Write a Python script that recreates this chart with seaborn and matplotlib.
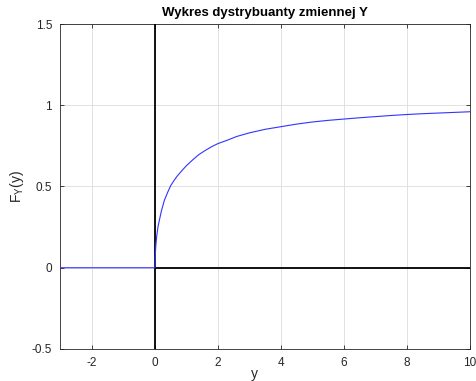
import numpy as np
import pandas as pd
import matplotlib
matplotlib.use("Agg")
import matplotlib.pyplot as plt
import seaborn as sns

# data
y_vals = [-3.0, -2.0, -1.0, 0.0, 0.01, 0.03, 0.06, 0.1, 0.15, 0.2, 0.3, 0.4, 0.5,
          0.6, 0.7, 0.8, 0.9, 1.0, 1.2, 1.4, 1.6, 1.8, 2.0, 2.3, 2.6, 3.0, 3.5,
          4.0, 4.5, 5.0, 5.5, 6.0, 6.5, 7.0, 7.5, 8.0, 8.5, 9.0, 9.5, 10.0]
F_vals = [0.0, 0.0, 0.0, 0.0, 0.07, 0.14, 0.20, 0.255, 0.30, 0.345, 0.415, 0.462, 0.505,
          0.535, 0.562, 0.585, 0.607, 0.628, 0.664, 0.697, 0.722, 0.745, 0.764, 0.785,
          0.808, 0.830, 0.852, 0.868, 0.884, 0.897, 0.907, 0.915, 0.923, 0.930, 0.937,
          0.943, 0.948, 0.952, 0.956, 0.960]
x_ticks = [-2, 0, 2, 4, 6, 8, 10]
y_ticks = [-0.5, 0, 0.5, 1, 1.5]
y_tick_labels = ["-0.5", "0", "0.5", "1", "1.5"]
title = "Wykres dystrybuanty zmiennej Y"

df = pd.DataFrame({"y": y_vals, "F": F_vals})

sns.set_style("ticks")
plt.rcParams["font.family"] = ["Liberation Sans", "DejaVu Sans"]
plt.rcParams["mathtext.fontset"] = "custom"
plt.rcParams["mathtext.rm"] = "Liberation Sans"
plt.rcParams["mathtext.it"] = "Liberation Sans"

fig = plt.figure(figsize=(4.76, 3.81), dpi=100)
ax = fig.add_axes([0.127, 0.084, 0.860, 0.853])

axc = "#262626"
ax.grid(True, color="#dcdcdc", linewidth=0.6)
ax.set_axisbelow(True)

# black axes lines
ax.axvline(0, color="black", linewidth=1.3, zorder=3)
ax.plot([0, 10], [0, 0], color="black", linewidth=1.3, zorder=3)

sns.lineplot(data=df, x="y", y="F", color="#3333ff", linewidth=0.8,
             estimator=None, sort=False, ax=ax, zorder=4)

ax.set_xlim(-3, 10)
ax.set_ylim(-0.5, 1.5)
ax.set_xticks(x_ticks)
ax.set_xticklabels([str(t) for t in x_ticks])
ax.set_yticks(y_ticks)
ax.set_yticklabels(y_tick_labels)
ax.tick_params(direction="in", length=3, width=0.6, colors=axc, labelsize=8.5,
               top=True, right=True, labeltop=False, labelright=False, pad=6)
for sp in ax.spines.values():
    sp.set_visible(True)
    sp.set_color(axc)
    sp.set_linewidth(0.6)

ax.set_title(title, fontsize=9.5, fontweight="bold", color="black", pad=6)
ax.set_xlabel("y", fontsize=10, color=axc, labelpad=0)
ax.set_ylabel(r"F$_{\mathrm{Y}}$(y)", fontsize=10, color=axc, labelpad=4)
ax.xaxis.set_label_coords(0.473, -0.055)

fig.savefig("out.png", dpi=100)
